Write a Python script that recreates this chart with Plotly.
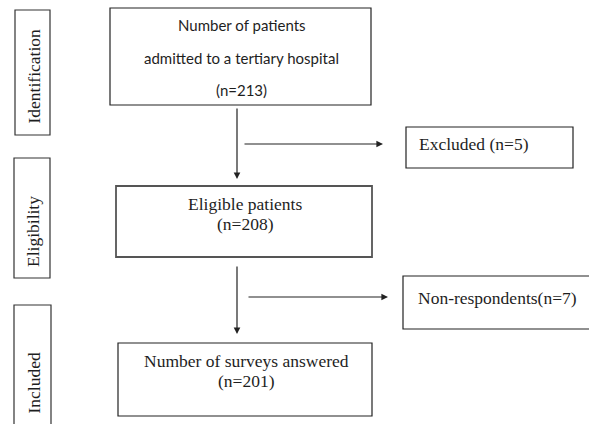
import plotly.graph_objects as go

# ---- data ----
stages = ["Identification", "Eligibility", "Included"]
main_lines = [["Number of patients", "admitted to a tertiary hospital"],
              ["Eligible patients"],
              ["Number of surveys answered"]]
main_counts = [213, 208, 201]
side_labels = ["Excluded ", "Non-respondents"]
side_counts = [5, 7]

# ---- layout geometry (pixels, y down) ----
W, H = 589, 424
stage_boxes = [(15, 10, 50, 135), (14, 158, 50, 278), (14, 305, 51, 440)]
stage_text_y = [76, 232, 383]
main_boxes = [(110, 8, 371, 105), (116, 186, 372, 257), (118, 343, 372, 416)]
main_line_y = [[25, 58, 90], [204, 224], [361, 381]]
side_boxes = [(406, 127, 573, 168), (403, 276, 600, 329)]
side_text = [(417, 144), (416, 298)]
down_arrows = [(237, 107, 179), (237, 265, 334)]
right_arrows = [(243, 383, 144), (247, 388, 297)]

fig = go.Figure()
fig.add_trace(go.Scatter(x=[0, W], y=[0, H], mode="markers", marker=dict(opacity=0), hoverinfo="skip", showlegend=False))

shapes = []
annotations = []
serif = "Liberation Serif"
ink = "#1e1e1e"

for (x0, y0, x1, y1), name, ty in zip(stage_boxes, stages, stage_text_y):
    shapes.append(dict(type="rect", x0=x0, y0=y0, x1=x1, y1=y1, line=dict(color="#333", width=1.2), xref="x", yref="y"))
    annotations.append(dict(x=(x0 + x1) / 2 + 1, y=ty, text=name, textangle=-90, showarrow=False,
                            font=dict(family=serif, size=17.5, color=ink), xref="x", yref="y"))

main_fonts = [dict(family="Lato", size=15, color=ink), dict(family=serif, size=17.5, color=ink), dict(family=serif, size=17.5, color=ink)]
for i, ((x0, y0, x1, y1), lines, n) in enumerate(zip(main_boxes, main_lines, main_counts)):
    lc = "#222" if i != 1 else "#555"
    lw = 1.2 if i != 1 else 1.8
    shapes.append(dict(type="rect", x0=x0, y0=y0, x1=x1, y1=y1, line=dict(color=lc, width=lw), xref="x", yref="y"))
    texts = lines + [f"(n={n})"]
    for t, ty in zip(texts, main_line_y[i]):
        annotations.append(dict(x=(x0 + x1) / 2 + 1, y=ty, text=t, showarrow=False,
                                font=main_fonts[i], xref="x", yref="y", align="center"))

for (x0, y0, x1, y1), lab, n, (tx, ty) in zip(side_boxes, side_labels, side_counts, side_text):
    shapes.append(dict(type="rect", x0=x0, y0=y0, x1=x1, y1=y1, line=dict(color="#222", width=1.2), xref="x", yref="y"))
    annotations.append(dict(x=tx, y=ty, text=f"{lab}(n={n})", showarrow=False, xanchor="left",
                            font=dict(family=serif, size=17.5, color=ink), xref="x", yref="y"))

for x, y0, y1 in down_arrows:
    annotations.append(dict(x=x, y=y1, ax=x, ay=y0, axref="x", ayref="y", xref="x", yref="y", text="",
                            showarrow=True, arrowhead=2, arrowsize=1.1, arrowwidth=1.2, arrowcolor="#222"))
for x0, x1, y in right_arrows:
    annotations.append(dict(x=x1, y=y, ax=x0, ay=y, axref="x", ayref="y", xref="x", yref="y", text="",
                            showarrow=True, arrowhead=2, arrowsize=1.1, arrowwidth=1.2, arrowcolor="#222"))

fig.update_layout(
    width=W, height=H, margin=dict(l=0, r=0, t=0, b=0),
    paper_bgcolor="white", plot_bgcolor="white",
    xaxis=dict(range=[0, W], visible=False, fixedrange=True),
    yaxis=dict(range=[H, 0], visible=False, fixedrange=True),
    shapes=shapes, annotations=annotations, showlegend=False,
)
fig.write_html("out.html", config={"displayModeBar": False, "staticPlot": True},
               post_script="document.body.style.margin='0';document.body.style.overflow='hidden';")
